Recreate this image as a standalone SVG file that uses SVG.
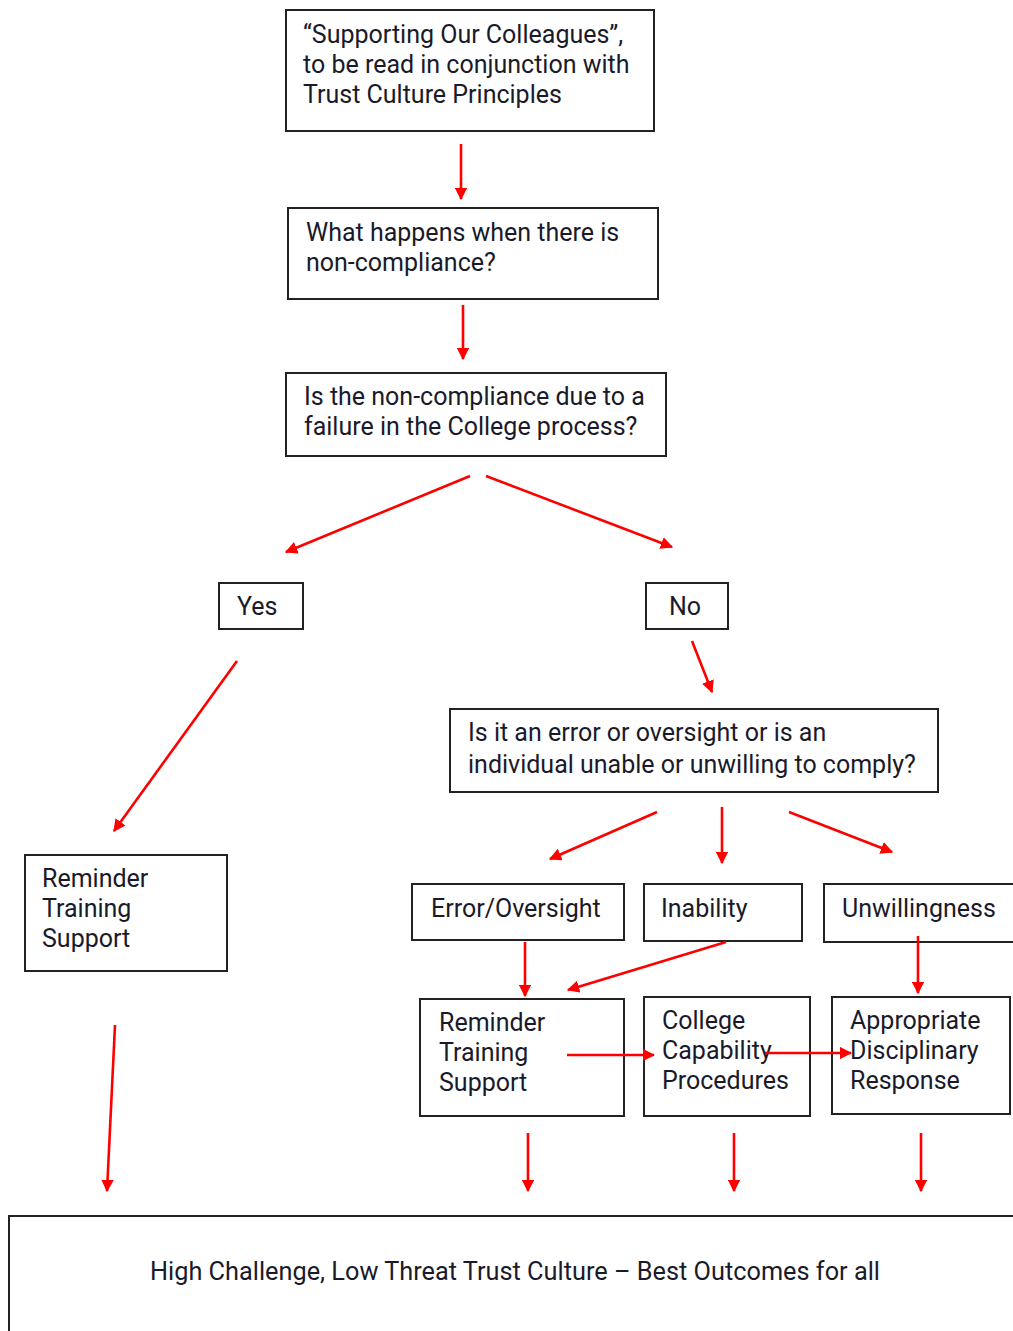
<svg xmlns="http://www.w3.org/2000/svg" width="1013" height="1331" viewBox="0 0 1013 1331">
<defs>
<marker id="ah" viewBox="0 0 10 10" refX="9" refY="5" markerWidth="4.8" markerHeight="4.8" orient="auto" markerUnits="strokeWidth">
<path d="M0,0 L10,5 L0,10 z" fill="#ff0000"/>
</marker>
</defs>
<style>
.box{fill:#fff;stroke:#222;stroke-width:2}
.t{font-family:Roboto,"Liberation Sans",sans-serif;font-size:25px;fill:#1a1a2a}
.c{stroke:#ff0000;stroke-width:2.6;fill:none;marker-end:url(#ah)}
</style>
<rect width="1013" height="1331" fill="#fff"/>
<g id="n1"><rect class="box" x="286" y="10" width="368" height="121"/>
<text class="t" x="303" y="43">“Supporting Our Colleagues”,</text>
<text class="t" x="303" y="73">to be read in conjunction with</text>
<text class="t" x="303" y="103">Trust Culture Principles</text></g>
<g id="n2"><rect class="box" x="288" y="208" width="370" height="91"/>
<text class="t" x="306" y="241">What happens when there is</text>
<text class="t" x="306" y="271">non-compliance?</text></g>
<g id="n3"><rect class="box" x="286" y="373" width="380" height="83"/>
<text class="t" x="304" y="405">Is the non-compliance due to a</text>
<text class="t" x="304" y="435">failure in the College process?</text></g>
<g id="yes"><rect class="box" x="219" y="583" width="84" height="46"/>
<text class="t" x="237" y="615">Yes</text></g>
<g id="no"><rect class="box" x="646" y="583" width="82" height="46"/>
<text class="t" x="669" y="615">No</text></g>
<g id="q2"><rect class="box" x="450" y="709" width="488" height="83"/>
<text class="t" x="468" y="741">Is it an error or oversight or is an</text>
<text class="t" x="468" y="773">individual unable or unwilling to comply?</text></g>
<g id="rts1"><rect class="box" x="25" y="855" width="202" height="116"/>
<text class="t" x="42" y="887">Reminder</text>
<text class="t" x="42" y="917">Training</text>
<text class="t" x="42" y="947">Support</text></g>
<g id="err"><rect class="box" x="412" y="884" width="212" height="56"/>
<text class="t" x="431" y="917">Error/Oversight</text></g>
<g id="inab"><rect class="box" x="644" y="884" width="158" height="57"/>
<text class="t" x="661" y="917">Inability</text></g>
<g id="unw"><rect class="box" x="824" y="884" width="200" height="58"/>
<text class="t" x="842" y="917">Unwillingness</text></g>
<g id="rts2"><rect class="box" x="420" y="999" width="204" height="117"/>
<text class="t" x="439" y="1031">Reminder</text>
<text class="t" x="439" y="1061">Training</text>
<text class="t" x="439" y="1091">Support</text></g>
<g id="ccp"><rect class="box" x="644" y="997" width="166" height="119"/>
<text class="t" x="662" y="1029">College</text>
<text class="t" x="662" y="1059">Capability</text>
<text class="t" x="662" y="1089">Procedures</text></g>
<g id="adr"><rect class="box" x="832" y="997" width="178" height="117"/>
<text class="t" x="850" y="1029">Appropriate</text>
<text class="t" x="850" y="1059">Disciplinary</text>
<text class="t" x="850" y="1089">Response</text></g>
<g id="out"><rect class="box" x="9" y="1216" width="1020" height="130"/>
<text class="t" x="515" y="1280" text-anchor="middle" textLength="730" lengthAdjust="spacingAndGlyphs">High Challenge, Low Threat Trust Culture – Best Outcomes for all</text></g>
<g id="connectors">
<line class="c" x1="461" y1="144" x2="461" y2="199"/>
<line class="c" x1="463" y1="305" x2="463" y2="359"/>
<line class="c" x1="470" y1="476" x2="286" y2="552"/>
<line class="c" x1="486" y1="476" x2="672" y2="547"/>
<line class="c" x1="237" y1="661" x2="114" y2="831"/>
<line class="c" x1="692" y1="641" x2="712" y2="692"/>
<line class="c" x1="657" y1="812" x2="550" y2="859"/>
<line class="c" x1="722" y1="807" x2="722" y2="863"/>
<line class="c" x1="789" y1="812" x2="892" y2="852"/>
<line class="c" x1="525" y1="942" x2="525" y2="996"/>
<line class="c" x1="726" y1="942" x2="568" y2="990"/>
<line class="c" x1="918" y1="936" x2="918" y2="993"/>
<line class="c" x1="567" y1="1055" x2="654" y2="1055"/>
<line class="c" x1="765" y1="1053" x2="851" y2="1053"/>
<line class="c" x1="115" y1="1025" x2="107" y2="1191"/>
<line class="c" x1="528" y1="1133" x2="528" y2="1191"/>
<line class="c" x1="734" y1="1133" x2="734" y2="1191"/>
<line class="c" x1="921" y1="1133" x2="921" y2="1191"/>
</g>
</svg>
